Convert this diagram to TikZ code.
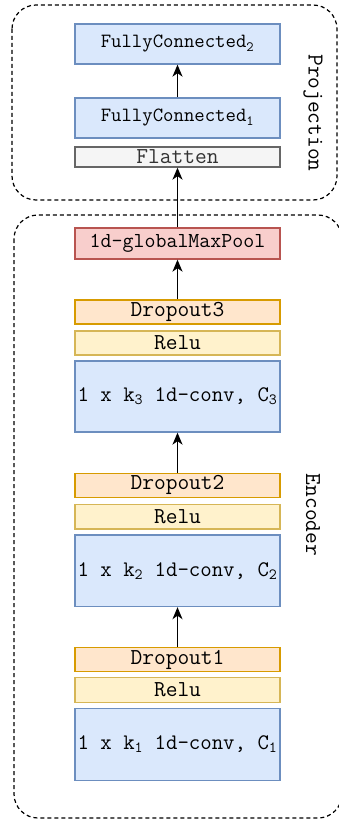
\documentclass[tikz,border=0pt]{standalone}
\usepackage{fontspec}
\usepackage{tikz}
\usetikzlibrary{arrows.meta}

\begin{document}
\begin{tikzpicture}[x=1pt, y=-1pt,
  blocco/.style={draw, line width=1.3pt, minimum width=205, inner sep=0pt,
    font=\ttfamily\fontsize{22.8}{26}\selectfont},
  freccia/.style={-{Stealth[length=12pt, width=10pt, inset=3.5pt]}, line width=1.4pt},
  riquadro/.style={dash pattern=on 4pt off 3pt, line width=1.2pt, rounded corners=24pt}]

% Colori (stile draw.io)
\definecolor{colConv}{HTML}{DAE8FC}
\definecolor{lineConv}{HTML}{6C8EBF}
\definecolor{colRelu}{HTML}{FFF2CC}
\definecolor{lineRelu}{HTML}{D6B656}
\definecolor{colDrop}{HTML}{FFE6CC}
\definecolor{lineDrop}{HTML}{D79B00}
\definecolor{colPool}{HTML}{F8CECC}
\definecolor{linePool}{HTML}{B85450}
\definecolor{colFlat}{HTML}{F5F5F5}
\definecolor{lineFlat}{HTML}{666666}
\definecolor{textFlat}{HTML}{333333}

% Area del disegno
\clip (0,0) rectangle (339,821);

% Riquadri tratteggiati
\draw[riquadro] (12,5) rectangle (337,200);
\draw[riquadro] (14,215) rectangle (342,818);

% Etichette ruotate
\node[rotate=-90, font=\ttfamily\fontsize{22.8}{26}\selectfont] (lblProj) at (313,113) {Projection};
\node[rotate=-90, font=\ttfamily\fontsize{22.8}{26}\selectfont] (lblEnc) at (313,515) {Encoder};

% Proiezione
\node[blocco, fill=colConv, draw=lineConv, minimum height=40,
  font=\ttfamily\fontsize{20.2}{23}\selectfont] (fc2) at (177.5,44) {FullyConnected\textsubscript{2}};
\node[blocco, fill=colConv, draw=lineConv, minimum height=40,
  font=\ttfamily\fontsize{20.2}{23}\selectfont] (fc1) at (177.5,118) {FullyConnected\textsubscript{1}};
\node[blocco, fill=colFlat, draw=lineFlat, text=textFlat, minimum height=20] (flat) at (177.5,157) {Flatten};

% Encoder
\node[blocco, fill=colPool, draw=linePool, minimum height=31,
  font=\ttfamily\fontsize{21.3}{24}\selectfont] (pool) at (177.5,243.5) {1d-globalMaxPool};

\node[blocco, fill=colDrop, draw=lineDrop, minimum height=24] (drop3) at (177.5,312) {Dropout3};
\node[blocco, fill=colRelu, draw=lineRelu, minimum height=24] (relu3) at (177.5,343) {Relu};
\node[blocco, fill=colConv, draw=lineConv, minimum height=71,
  font=\ttfamily\fontsize{22.2}{25}\selectfont] (conv3) at (177.5,396.5) {1 x k\textsubscript{3} 1d-conv, C\textsubscript{3}};

\node[blocco, fill=colDrop, draw=lineDrop, minimum height=24] (drop2) at (177.5,485.3) {Dropout2};
\node[blocco, fill=colRelu, draw=lineRelu, minimum height=24.5] (relu2) at (177.5,516.7) {Relu};
\node[blocco, fill=colConv, draw=lineConv, minimum height=71.5,
  font=\ttfamily\fontsize{22.2}{25}\selectfont] (conv2) at (177.5,570.8) {1 x k\textsubscript{2} 1d-conv, C\textsubscript{2}};

\node[blocco, fill=colDrop, draw=lineDrop, minimum height=24] (drop1) at (177.5,659.5) {Dropout1};
\node[blocco, fill=colRelu, draw=lineRelu, minimum height=24.5] (relu1) at (177.5,690) {Relu};
\node[blocco, fill=colConv, draw=lineConv, minimum height=72,
  font=\ttfamily\fontsize{22.2}{25}\selectfont] (conv1) at (177.5,744.5) {1 x k\textsubscript{1} 1d-conv, C\textsubscript{1}};

% Frecce
\draw[freccia] (drop1) -- (conv2);
\draw[freccia] (drop2) -- (conv3);
\draw[freccia] (drop3) -- (pool);
\draw[freccia] (pool) -- (flat);
\draw[freccia] (fc1) -- (fc2);

\end{tikzpicture}
\end{document}
